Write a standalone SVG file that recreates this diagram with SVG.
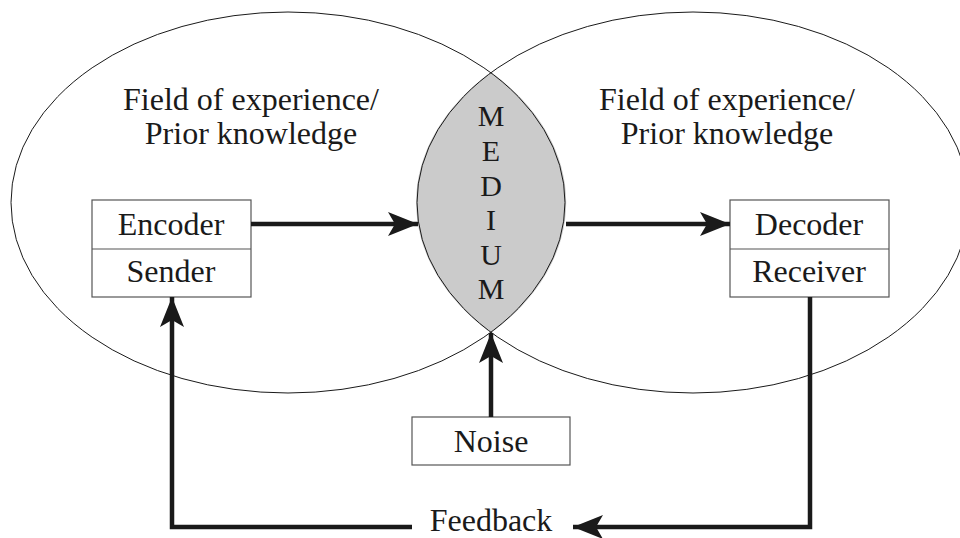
<svg xmlns="http://www.w3.org/2000/svg" width="960" height="538" viewBox="0 0 960 538">
  <style>
    .field { fill: none; stroke: #1a1a1a; stroke-width: 1; }
    .box { fill: #fff; stroke: #555; stroke-width: 1.2; }
    .label { font-family: "Liberation Serif", "Times New Roman", serif; font-size: 32px; fill: #1a1a1a; text-anchor: middle; }
    .letter { font-size: 30px; }
    .flow { fill: none; stroke: #1a1a1a; stroke-width: 4.5; }
  </style>
  <defs>
    <marker id="head" viewBox="0 0 30 24" refX="30" refY="12" markerWidth="30" markerHeight="24" markerUnits="userSpaceOnUse" orient="auto">
      <path d="M0 0 L30 12 L0 24 L7 12 Z" fill="#1a1a1a"/>
    </marker>
  </defs>
  <rect width="960" height="538" fill="#fff"/>

  <!-- overlapping fields of experience -->
  <g id="medium">
    <path d="M491 72 A277 190.5 0 0 1 491 333 A276 190.5 0 0 1 491 72 Z" fill="#cbcbcb" stroke="none"/>
  </g>
  <g id="field-sender">
    <ellipse class="field" cx="288" cy="202.5" rx="277" ry="190.5"/>
    <text class="label" x="251" y="110">Field of experience/</text>
    <text class="label" x="251" y="144">Prior knowledge</text>
  </g>
  <g id="field-receiver">
    <ellipse class="field" cx="693" cy="202.5" rx="276" ry="190.5"/>
    <text class="label" x="727" y="110">Field of experience/</text>
    <text class="label" x="727" y="144">Prior knowledge</text>
  </g>
  <g id="medium-label">
    <text class="label letter" x="491" y="126">M</text>
    <text class="label letter" x="491" y="161">E</text>
    <text class="label letter" x="491" y="196">D</text>
    <text class="label letter" x="491" y="230">I</text>
    <text class="label letter" x="491" y="265">U</text>
    <text class="label letter" x="491" y="299">M</text>
  </g>

  <g id="sender">
    <rect class="box" x="92" y="200" width="159" height="97"/>
    <line class="box" x1="92" y1="249" x2="251" y2="249"/>
    <text class="label" x="171" y="235">Encoder</text>
    <text class="label" x="171" y="282">Sender</text>
  </g>

  <g id="receiver">
    <rect class="box" x="730" y="200" width="159" height="97"/>
    <line class="box" x1="730" y1="249" x2="889" y2="249"/>
    <text class="label" x="809" y="235">Decoder</text>
    <text class="label" x="809" y="282">Receiver</text>
  </g>

  <g id="noise">
    <rect class="box" x="412" y="417" width="158" height="48"/>
    <text class="label" x="491" y="452">Noise</text>
  </g>

  <g id="feedback">
    <text class="label" x="491" y="531">Feedback</text>
  </g>

  <g id="connectors">
    <line class="flow" x1="251" y1="224" x2="418" y2="224" marker-end="url(#head)"/>
    <line class="flow" x1="566" y1="224" x2="730" y2="224" marker-end="url(#head)"/>
    <line class="flow" x1="491" y1="417" x2="491" y2="333" marker-end="url(#head)"/>
    <polyline class="flow" points="810,297 810,527 573,527" marker-end="url(#head)"/>
    <polyline class="flow" points="412,527 172,527 172,297" marker-end="url(#head)"/>
  </g>
</svg>
